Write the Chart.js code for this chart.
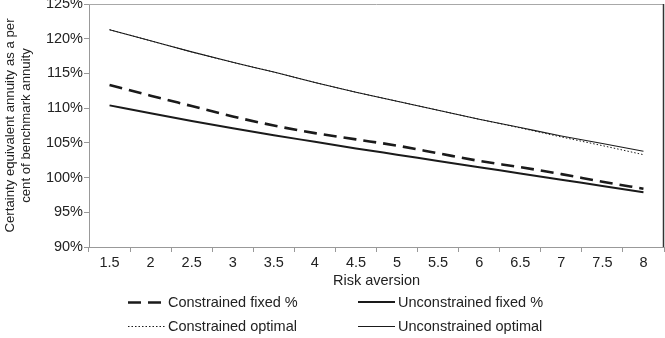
<!DOCTYPE html>
<html>
<head>
<meta charset="utf-8">
<script src="https://cdn.jsdelivr.net/npm/chart.js@4/dist/chart.umd.min.js"></script>
<style>
  html, body { margin: 0; padding: 0; background: #fff; }
  #wrap { position: relative; width: 665px; height: 338px; overflow: hidden; }
  #c { position: absolute; left: 0; top: 0; }
  .leg { position: absolute; font-family: "Liberation Sans", Arial, sans-serif; font-size: 14.5px; color: #222; line-height: 16px; white-space: nowrap; }
  .leg svg { position: absolute; left: 0; top: 0; }
  .leg span { position: absolute; top: 0; }
</style>
</head>
<body>
<div id="wrap">
  <canvas id="c" width="665" height="338"></canvas>
  <div id="legend"></div>
</div>
<script>
const categories = ['1.5','2','2.5','3','3.5','4','4.5','5','5.5','6','6.5','7','7.5','8'];
const constrainedFixed    = [113.35,111.8,110.3,108.8,107.5,106.4,105.5,104.6,103.5,102.4,101.5,100.5,99.4,98.4];
const unconstrainedFixed  = [110.4,109.25,108.15,107.1,106.1,105.15,104.2,103.3,102.4,101.5,100.6,99.7,98.8,97.9];
const constrainedOptimal  = [121.3,119.7,118.1,116.6,115.2,113.7,112.3,111.0,109.7,108.4,107.15,105.85,104.6,103.3];
const unconstrainedOptimal= [121.3,119.7,118.1,116.6,115.2,113.7,112.3,111.0,109.7,108.4,107.2,106.0,104.9,103.8];
const yTicks = [90,95,100,105,110,115,120,125];
const seriesNames = ['Constrained fixed %','Unconstrained fixed %','Constrained optimal','Unconstrained optimal'];

const FONT = "'Liberation Sans', Arial, sans-serif";
const INK = '#1a1a1a';

const styles = [
  {borderWidth: 2.6, borderDash: [13, 7]},
  {borderWidth: 2, borderDash: []},
  {borderWidth: 1, borderDash: [1.5, 2]},
  {borderWidth: 1.1, borderDash: []}
];
const seriesData = [constrainedFixed, unconstrainedFixed, constrainedOptimal, unconstrainedOptimal];

const frame = {
  id: 'frame',
  afterDraw(chart) {
    const {ctx, chartArea: a} = chart;
    ctx.save();
    ctx.lineWidth = 1;
    ctx.strokeStyle = '#a8a8a8';
    ctx.beginPath(); ctx.moveTo(a.left, a.top + 0.5); ctx.lineTo(a.right, a.top + 0.5); ctx.stroke();
    ctx.strokeStyle = '#333';
    ctx.lineWidth = 1.5;
    ctx.beginPath(); ctx.moveTo(a.right - 0.5, a.top); ctx.lineTo(a.right - 0.5, a.bottom); ctx.stroke();
    ctx.restore();
  }
};

new Chart(document.getElementById('c'), {
  type: 'line',
  data: {
    labels: categories,
    datasets: seriesData.map((d, i) => ({
      label: seriesNames[i],
      data: d,
      borderColor: INK,
      backgroundColor: INK,
      borderWidth: styles[i].borderWidth,
      borderDash: styles[i].borderDash,
      pointRadius: 0,
      cubicInterpolationMode: 'monotone',
      fill: false
    }))
  },
  options: {
    responsive: false,
    animation: false,
    events: [],
    layout: { padding: { top: 4, right: 1, bottom: 48, left: 0 } },
    plugins: { legend: { display: false }, tooltip: { enabled: false } },
    scales: {
      x: {
        offset: true,
        afterFit(scale) { scale.height = 43; scale.paddingLeft = 0; scale.paddingRight = 0; },
        grid: { display: true, drawOnChartArea: false, offset: true, tickLength: 5, color: '#999', lineWidth: 1 },
        border: { display: true, color: '#999', width: 1 },
        ticks: { color: '#222', font: { family: FONT, size: 14.5 }, padding: 2, maxRotation: 0, autoSkip: false },
        title: { display: true, text: 'Risk aversion', color: '#222', font: { family: FONT, size: 14.5 }, padding: { top: 0, bottom: 0 } }
      },
      y: {
        min: 90, max: 125,
        afterBuildTicks(scale) { scale.ticks = yTicks.map(v => ({ value: v })); },
        afterFit(scale) { scale.width = 89; scale.paddingTop = 0; scale.paddingBottom = 0; },
        grid: { display: true, drawOnChartArea: false, tickLength: 5, color: '#999', lineWidth: 1 },
        border: { display: true, color: '#999', width: 1 },
        ticks: { color: '#222', font: { family: FONT, size: 14.5 }, padding: 1, callback: v => v + '%' },
        title: {
          display: true,
          text: ['Certainty equivalent annuity as a per', 'cent of benchmark annuity'],
          color: '#222',
          font: { family: FONT, size: 13.2, lineHeight: 1.27 },
          padding: { top: 1.5, bottom: 0 }
        }
      }
    }
  },
  plugins: [frame]
});

// HTML legend (2 x 2 grid)
const legPos = [
  {x: 128, y: 294}, {x: 358, y: 294},
  {x: 128, y: 318}, {x: 358, y: 318}
];
const legend = document.getElementById('legend');
seriesNames.forEach((name, i) => {
  const d = document.createElement('div');
  d.className = 'leg';
  d.style.left = legPos[i].x + 'px';
  d.style.top = legPos[i].y + 'px';
  d.style.width = '240px';
  d.style.height = '18px';
  const st = styles[i];
  const dash = st.borderDash.length ? ` stroke-dasharray="${st.borderDash.join(',')}"` : '';
  const yy = st.borderWidth % 2 === 0 ? 8 : 8.5;
  d.innerHTML = `<svg width="38" height="16"><line x1="0" y1="${yy}" x2="37" y2="${yy}" stroke="${INK}" stroke-width="${st.borderWidth}"${dash}/></svg><span style="left:40px">${name}</span>`;
  legend.appendChild(d);
});
</script>
</body>
</html>
